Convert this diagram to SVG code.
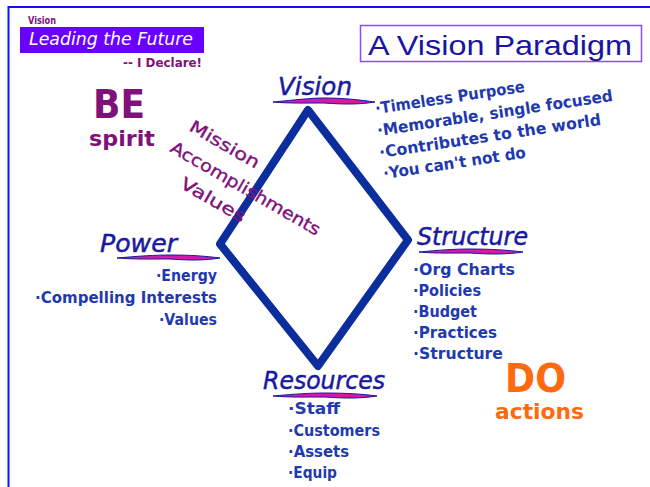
<svg xmlns="http://www.w3.org/2000/svg" width="650" height="487" viewBox="0 0 650 487">
<style>
.cm{font-family:"DejaVu Sans","Liberation Sans",sans-serif;font-weight:bold}
.lbl{font-family:"DejaVu Sans","Liberation Sans",sans-serif;font-style:italic;font-size:25px;fill:#1a1a9e;stroke:#1a1a9e;stroke-width:0.5}
.bul{font-family:"DejaVu Sans","Liberation Sans",sans-serif;font-weight:bold;font-size:16px;fill:#1f3aae}
.pur{fill:#80107a}
.rot{font-family:"DejaVu Sans","Liberation Sans",sans-serif;font-size:17px;fill:#80107a;stroke:#80107a;stroke-width:0.35}
.org{fill:#ff6a10}
.sw{fill:#d21aa6;stroke:#1a1a9e;stroke-width:1}
</style>
<rect width="650" height="487" fill="#ffffff"/>
<g id="frame" fill="none" stroke="#1010ff" stroke-width="2">
<path d="M8.5,487 V7 H650"/>
</g>
<g id="header">
<text class="cm pur" x="28" y="24" font-size="10" textLength="28" lengthAdjust="spacingAndGlyphs">Vision</text>
<rect x="20" y="27" width="184" height="26" fill="#6a00ff"/>
<text x="29" y="45" font-family="DejaVu Sans, sans-serif" font-style="italic" font-size="17" fill="#ffffff" textLength="164" lengthAdjust="spacingAndGlyphs">Leading the Future</text>
<text class="cm pur" x="123" y="67" font-size="12" textLength="79" lengthAdjust="spacingAndGlyphs">-- I Declare!</text>
</g>
<g id="title">
<rect x="360.5" y="25.5" width="281" height="36" fill="none" stroke="#8a4cff" stroke-width="1.5"/>
<text x="368" y="55" font-family="Liberation Sans, Arial, sans-serif" font-size="28" fill="#1a14a0" textLength="264" lengthAdjust="spacingAndGlyphs">A Vision Paradigm</text>
</g>
<g id="connectors">
<path d="M308,110 L408,240 L318,366 L220,244 Z" fill="none" stroke="#0c2d9c" stroke-width="8" stroke-linejoin="round" stroke-linecap="round"/>
</g>
<g id="be">
<text class="cm pur" x="93" y="118" font-size="39" textLength="52" lengthAdjust="spacingAndGlyphs">BE</text>
<text class="cm pur" x="89" y="146" font-size="21" textLength="66" lengthAdjust="spacingAndGlyphs">spirit</text>
</g>
<g id="mission">
<text class="rot" x="188" y="130" transform="rotate(30 188 130)" textLength="78" lengthAdjust="spacingAndGlyphs">Mission</text>
<text class="rot" x="169" y="151" transform="rotate(30 169 151)" textLength="170" lengthAdjust="spacingAndGlyphs">Accomplishments</text>
<text class="rot" x="179" y="187" transform="rotate(30 179 187)" textLength="72" lengthAdjust="spacingAndGlyphs">Values</text>
</g>
<g id="vision">
<text class="lbl" x="278" y="95" textLength="74" lengthAdjust="spacingAndGlyphs">Vision</text>
<path class="sw" d="M273,102 C295,100 310,98 324,98 C345,98 360,100 375,102 C360,104.5 345,104.5 324,103 C305,103 290,103.5 273,102 Z"/>
<text class="bul" x="376" y="114" transform="rotate(-8.5 376 114)" textLength="151" lengthAdjust="spacingAndGlyphs">·Timeless Purpose</text>
<text class="bul" x="378" y="136" transform="rotate(-8.5 378 136)" textLength="238" lengthAdjust="spacingAndGlyphs">·Memorable, single focused</text>
<text class="bul" x="380" y="158" transform="rotate(-8.5 380 158)" textLength="224" lengthAdjust="spacingAndGlyphs">·Contributes to the world</text>
<text class="bul" x="384" y="179" transform="rotate(-8.5 384 179)" textLength="144" lengthAdjust="spacingAndGlyphs">·You can't not do</text>
</g>
<g id="power">
<text class="lbl" x="100" y="252" textLength="77" lengthAdjust="spacingAndGlyphs">Power</text>
<path class="sw" d="M117,258 C140,256 155,255 170,255 C190,255 205,256 220,258 C205,260.5 190,260.5 170,259 C150,259 135,259.5 117,258 Z"/>
<text class="bul" x="217" y="281" text-anchor="end" textLength="61" lengthAdjust="spacingAndGlyphs">·Energy</text>
<text class="bul" x="217" y="303" text-anchor="end" textLength="182" lengthAdjust="spacingAndGlyphs">·Compelling Interests</text>
<text class="bul" x="217" y="325" text-anchor="end" textLength="58" lengthAdjust="spacingAndGlyphs">·Values</text>
</g>
<g id="structure">
<text class="lbl" x="417" y="245" textLength="111" lengthAdjust="spacingAndGlyphs">Structure</text>
<path class="sw" d="M419,252 C440,250 455,249 470,249 C490,249 508,250 523,252 C508,254.5 490,254.5 470,253 C450,253 435,253.5 419,252 Z"/>
<text class="bul" x="413" y="275" textLength="102" lengthAdjust="spacingAndGlyphs">·Org Charts</text>
<text class="bul" x="413" y="296" textLength="68" lengthAdjust="spacingAndGlyphs">·Policies</text>
<text class="bul" x="413" y="317" textLength="64" lengthAdjust="spacingAndGlyphs">·Budget</text>
<text class="bul" x="413" y="338" textLength="84" lengthAdjust="spacingAndGlyphs">·Practices</text>
<text class="bul" x="413" y="359" textLength="90" lengthAdjust="spacingAndGlyphs">·Structure</text>
</g>
<g id="resources">
<text class="lbl" x="263" y="389" textLength="122" lengthAdjust="spacingAndGlyphs">Resources</text>
<path class="sw" d="M273,396 C295,394 310,393 325,393 C345,393 362,394 377,396 C362,398.5 345,398.5 325,397 C305,397 290,397.5 273,396 Z"/>
<text class="bul" x="288" y="414" textLength="52" lengthAdjust="spacingAndGlyphs">·Staff</text>
<text class="bul" x="288" y="436" textLength="92" lengthAdjust="spacingAndGlyphs">·Customers</text>
<text class="bul" x="288" y="457" textLength="61" lengthAdjust="spacingAndGlyphs">·Assets</text>
<text class="bul" x="288" y="478" textLength="49" lengthAdjust="spacingAndGlyphs">·Equip</text>
</g>
<g id="do">
<text class="cm org" x="505" y="392" font-size="39" textLength="61" lengthAdjust="spacingAndGlyphs">DO</text>
<text class="cm org" x="495" y="419" font-size="21" textLength="89" lengthAdjust="spacingAndGlyphs">actions</text>
</g>
</svg>
